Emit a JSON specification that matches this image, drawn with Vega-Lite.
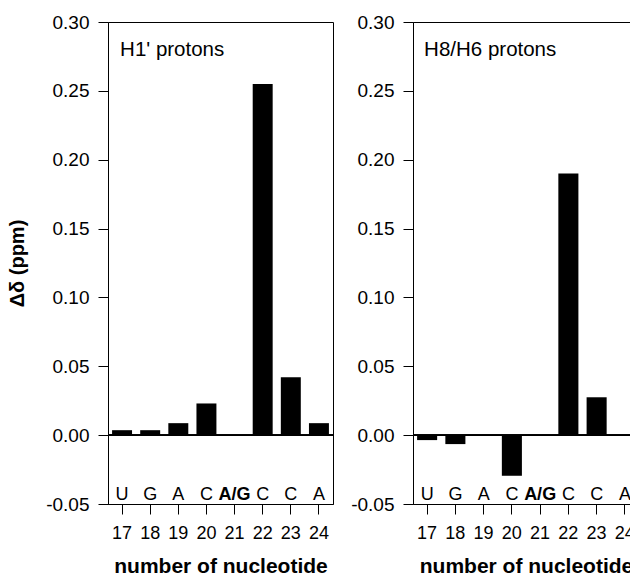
{
  "$schema": "https://vega.github.io/schema/vega-lite/v6.json",
  "padding": {"left": 7, "top": 12, "right": 0, "bottom": 0},
  "spacing": 16,
  "config": {
    "font": "Liberation Sans",
    "view": {"stroke": "black", "strokeWidth": 1},
    "axis": {
      "domainColor": "black", "tickColor": "black", "labelColor": "black", "titleColor": "black",
      "grid": false, "tickSize": 10, "labelFont": "Liberation Sans", "titleFont": "Liberation Sans",
      "labelFontSize": 18, "titleFontSize": 21, "titleFontWeight": "bold"
    }
  },
  "datasets": {
    "h1": [
      {"nt": 17, "dd": 0.0036, "base": "U"},
      {"nt": 18, "dd": 0.0036, "base": "G"},
      {"nt": 19, "dd": 0.0087, "base": "A"},
      {"nt": 20, "dd": 0.023, "base": "C"},
      {"nt": 21, "dd": 0, "base": "A/G"},
      {"nt": 22, "dd": 0.255, "base": "C"},
      {"nt": 23, "dd": 0.042, "base": "C"},
      {"nt": 24, "dd": 0.0087, "base": "A"}
    ],
    "h8": [
      {"nt": 17, "dd": -0.0036, "base": "U"},
      {"nt": 18, "dd": -0.0065, "base": "G"},
      {"nt": 19, "dd": 0, "base": "A"},
      {"nt": 20, "dd": -0.0295, "base": "C"},
      {"nt": 21, "dd": 0, "base": "A/G"},
      {"nt": 22, "dd": 0.19, "base": "C"},
      {"nt": 23, "dd": 0.0275, "base": "C"},
      {"nt": 24, "dd": 0, "base": "A"}
    ]
  },
  "hconcat": [
    {
      "width": 225, "height": 482,
      "data": {"name": "h1"},
      "encoding": {
        "x": {"field": "nt", "type": "ordinal", "scale": {"paddingInner": 0.29, "paddingOuter": 0.145},
              "axis": {"labelAngle": 0, "labelPadding": 10, "title": "number of nucleotide", "titlePadding": 13}}
      },
      "layer": [
        {
          "mark": {"type": "bar", "color": "black"},
          "encoding": {
            "y": {"field": "dd", "type": "quantitative", "scale": {"domain": [-0.05, 0.3], "nice": false, "zero": false},
                  "axis": {"values": [-0.05, 0, 0.05, 0.1, 0.15, 0.2, 0.25, 0.3], "labelPadding": 9, "labelFontSize": 19,
                           "labelExpr": "datum.value < 0 ? '-' + format(-datum.value, '.2f') : format(datum.value, '.2f')",
                           "title": "Δδ (ppm)", "titleFontSize": 20, "titlePadding": 18}}
          }
        },
        {
          "mark": {"type": "rule", "color": "black", "strokeWidth": 1},
          "encoding": {"x": null, "y": {"datum": 0}}
        },
        {
          "transform": [{"filter": "datum.base != 'A/G'"}],
          "mark": {"type": "text", "fontSize": 18, "baseline": "alphabetic", "dy": -4, "color": "black"},
          "encoding": {"y": {"datum": -0.05}, "text": {"field": "base"}}
        },
        {
          "transform": [{"filter": "datum.base == 'A/G'"}],
          "mark": {"type": "text", "fontSize": 18, "fontWeight": "bold", "baseline": "alphabetic", "dy": -4, "color": "black"},
          "encoding": {"y": {"datum": -0.05}, "text": {"field": "base"}}
        },
        {
          "data": {"values": [{"label": "H1' protons", "nt": 17, "ypos": 0.28}]},
          "mark": {"type": "text", "fontSize": 20.5, "align": "left", "baseline": "middle", "color": "black", "dx": 8},
          "encoding": {"x": {"field": "nt", "type": "ordinal", "bandPosition": 0}, "y": {"field": "ypos", "type": "quantitative"}, "text": {"field": "label"}}
        }
      ]
    },
    {
      "width": 226, "height": 482,
      "data": {"name": "h8"},
      "encoding": {
        "x": {"field": "nt", "type": "ordinal", "scale": {"paddingInner": 0.29, "paddingOuter": 0.145},
              "axis": {"labelAngle": 0, "labelPadding": 10, "title": "number of nucleotide", "titlePadding": 13}}
      },
      "layer": [
        {
          "mark": {"type": "bar", "color": "black"},
          "encoding": {
            "y": {"field": "dd", "type": "quantitative", "scale": {"domain": [-0.05, 0.3], "nice": false, "zero": false},
                  "axis": {"values": [-0.05, 0, 0.05, 0.1, 0.15, 0.2, 0.25, 0.3], "labelPadding": 9, "labelFontSize": 19,
                           "labelExpr": "datum.value < 0 ? '-' + format(-datum.value, '.2f') : format(datum.value, '.2f')",
                           "title": null}}
          }
        },
        {
          "mark": {"type": "rule", "color": "black", "strokeWidth": 1},
          "encoding": {"x": null, "y": {"datum": 0}}
        },
        {
          "transform": [{"filter": "datum.base != 'A/G'"}],
          "mark": {"type": "text", "fontSize": 18, "baseline": "alphabetic", "dy": -4, "color": "black"},
          "encoding": {"y": {"datum": -0.05}, "text": {"field": "base"}}
        },
        {
          "transform": [{"filter": "datum.base == 'A/G'"}],
          "mark": {"type": "text", "fontSize": 18, "fontWeight": "bold", "baseline": "alphabetic", "dy": -4, "color": "black"},
          "encoding": {"y": {"datum": -0.05}, "text": {"field": "base"}}
        },
        {
          "data": {"values": [{"label": "H8/H6 protons", "nt": 17, "ypos": 0.28}]},
          "mark": {"type": "text", "fontSize": 20.5, "align": "left", "baseline": "middle", "color": "black", "dx": 7},
          "encoding": {"x": {"field": "nt", "type": "ordinal", "bandPosition": 0}, "y": {"field": "ypos", "type": "quantitative"}, "text": {"field": "label"}}
        }
      ]
    }
  ]
}
